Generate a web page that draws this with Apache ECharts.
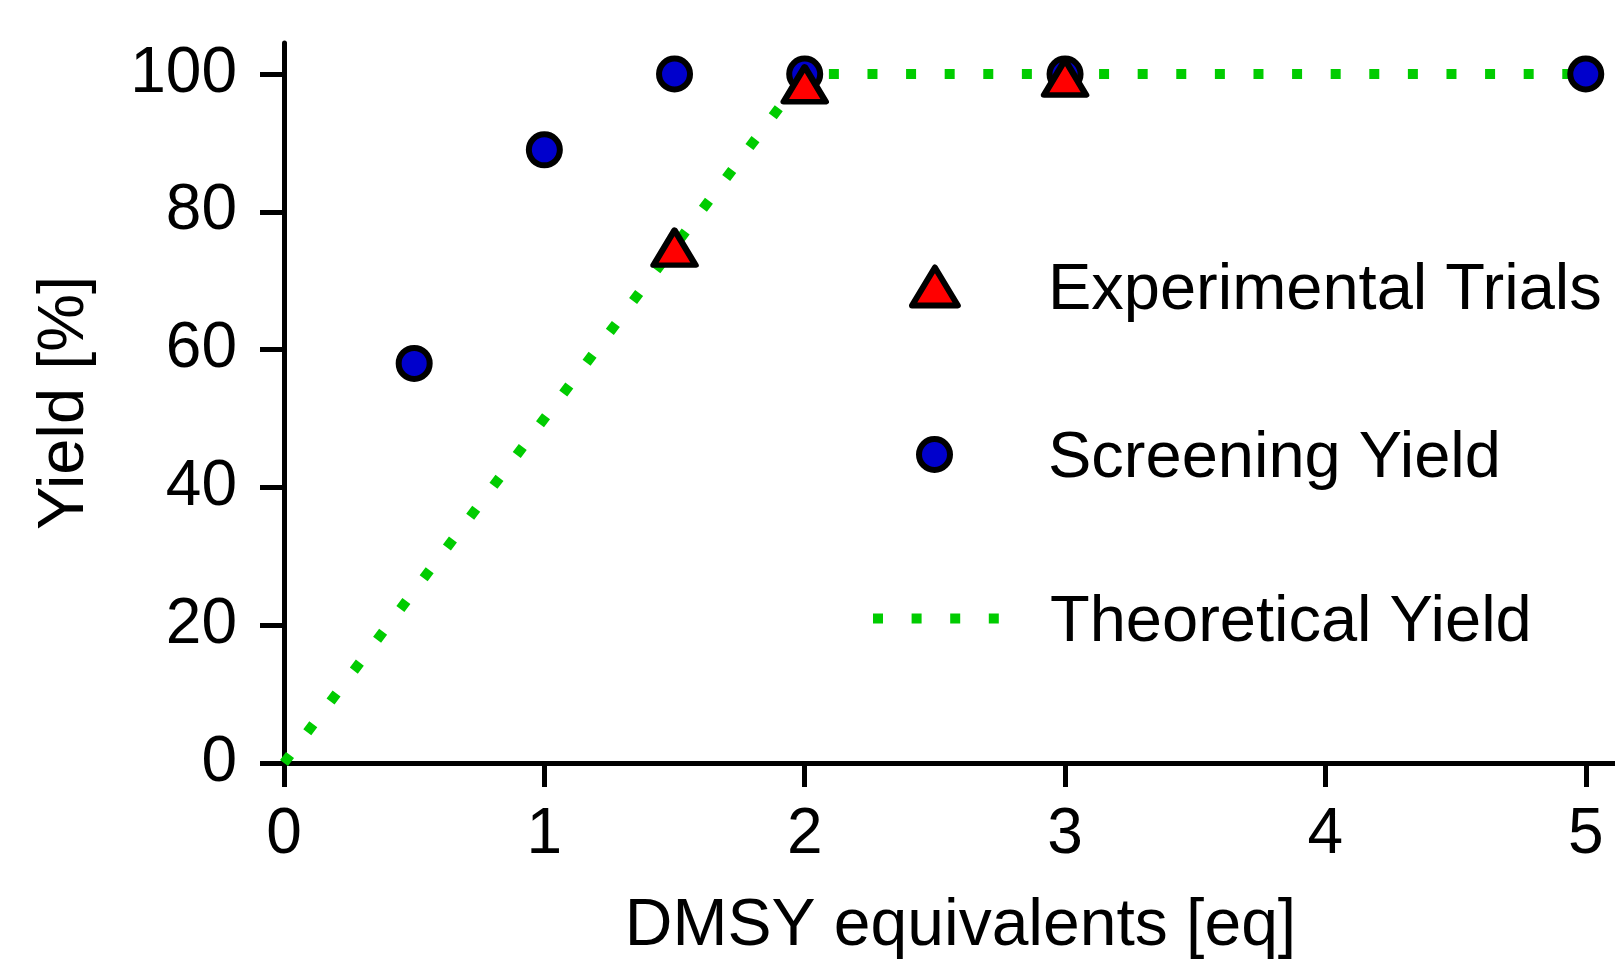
<!DOCTYPE html>
<html>
<head>
<meta charset="utf-8">
<title>Yield vs DMSY equivalents</title>
<script src="https://cdn.jsdelivr.net/npm/echarts@6/dist/echarts.min.js"></script>
<style>
  html, body { margin: 0; padding: 0; background: #fff; }
  #chart { width: 1615px; height: 960px; }
</style>
</head>
<body>
<div id="chart"></div>
<script>
// data
const xTicks = [0, 1, 2, 3, 4, 5];
const yTicks = [0, 20, 40, 60, 80, 100];

const screeningX = [0.5, 1, 1.5, 2, 3, 5];
const screeningY = [58, 89, 100, 100, 100, 100];

const trialX = [1.5, 2, 3];
const trialY = [74.8, 98.5, 99.5];

const theoryX = [0, 2, 5];
const theoryY = [0, 100, 100];

const names = ['Experimental Trials', 'Screening Yield', 'Theoretical Yield'];

const FONT = "'Liberation Sans', Arial, sans-serif";
const GREEN = '#00cc00';
const DOTS = [10, 28.6];

function pairs(xs, ys) {
    return xs.map((x, i) => [x, ys[i]]);
}

// one legend per entry so each row sits where it does in the original
// icon sits at the left of its box, text follows after a spacer token
function legendRow(name, left, top, w, h, gap, extra) {
    return Object.assign({
        data: [{ name: name }],
        left: left,
        top: top,
        padding: 0,
        selectedMode: false,
        itemWidth: w,
        itemHeight: h,
        itemStyle: { borderWidth: 6, borderColor: '#000' },
        lineStyle: { width: 10, type: DOTS, color: GREEN, cap: 'butt' },
        formatter: n => '{g| }{t|' + n + '}',
        textStyle: {
            fontFamily: FONT, fontSize: 65, color: '#000',
            rich: {
                g: { width: gap, fontSize: 65 },
                t: { fontFamily: FONT, fontSize: 65, color: '#000', padding: [10, 0, 0, 0] }
            }
        }
    }, extra || {});
}

const chart = echarts.init(document.getElementById('chart'));

chart.setOption({
    animation: false,
    backgroundColor: '#fff',
    grid: { left: 284, right: -2, top: 43, bottom: 197, containLabel: false, outerBoundsMode: 'none' },
    legend: [
        legendRow(names[0], 909, 292 - 38, 46, 38, 85, {
            data: [{ name: names[0], icon: 'path://M0,34 L20.5,0 L41,34 Z' }]
        }),
        legendRow(names[1], 916, 460 - 38, 31, 31, 93),
        legendRow(names[2], 868, 624 - 38, 126, 30, 46, {
            itemStyle: { color: 'rgba(0,0,0,0)', borderWidth: 0 }
        })
    ],
    xAxis: {
        type: 'value',
        min: 0,
        max: 5.12,
        name: 'DMSY equivalents [eq]',
        nameLocation: 'middle',
        nameGap: 131,
        nameTextStyle: { fontFamily: FONT, fontSize: 66, color: '#000', padding: [0, 0, 0, 20] },
        axisLine: { lineStyle: { color: '#000', width: 5 } },
        axisTick: { inside: false, length: 24, customValues: xTicks, lineStyle: { color: '#000', width: 5 } },
        axisLabel: { customValues: xTicks, margin: 40, fontFamily: FONT, fontSize: 64, color: '#000' },
        splitLine: { show: false }
    },
    yAxis: {
        type: 'value',
        min: 0,
        max: 104.5,
        name: 'Yield [%]',
        nameLocation: 'middle',
        nameGap: 186,
        nameTextStyle: { fontFamily: FONT, fontSize: 65, color: '#000' },
        axisLine: { show: true, lineStyle: { color: '#000', width: 5 } },
        axisTick: { show: true, length: 24, customValues: yTicks, lineStyle: { color: '#000', width: 5 } },
        axisLabel: { customValues: yTicks, margin: 47, fontFamily: FONT, fontSize: 64, color: '#000' },
        splitLine: { show: false }
    },
    series: [
        {
            name: names[2],
            type: 'line',
            data: pairs(theoryX, theoryY),
            symbol: 'none',
            lineStyle: { color: GREEN, width: 10, type: DOTS, cap: 'butt' },
            z: 1
        },
        {
            name: names[1],
            type: 'scatter',
            data: pairs(screeningX, screeningY),
            symbol: 'circle',
            symbolSize: 31,
            itemStyle: { color: '#0000cc', borderColor: '#000', borderWidth: 6, opacity: 1 },
            z: 2
        },
        {
            name: names[0],
            type: 'scatter',
            data: pairs(trialX, trialY),
            symbol: 'triangle',
            symbolSize: [42, 35],
            itemStyle: { color: '#ff0000', borderColor: '#000', borderWidth: 6, borderJoin: 'round', opacity: 1 },
            z: 3
        }
    ]
});
</script>
</body>
</html>
